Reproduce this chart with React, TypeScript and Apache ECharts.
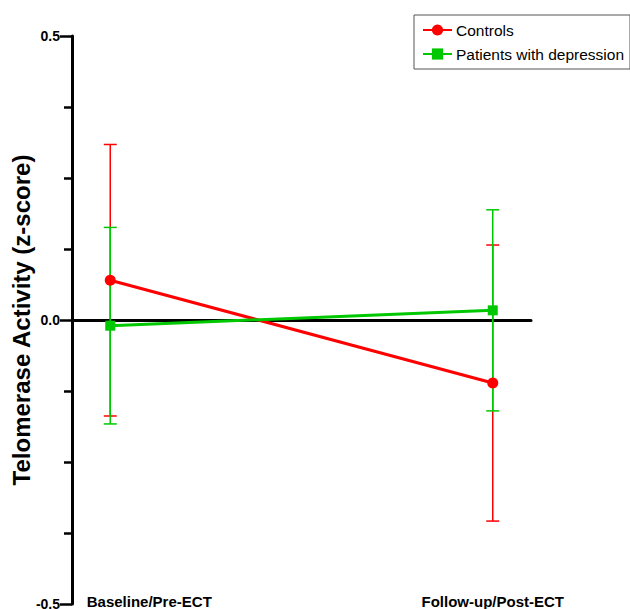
import React, { useEffect, useRef } from "react";
import * as echarts from "echarts";

// ---- data ----
const categories = ["Baseline/Pre-ECT", "Follow-up/Post-ECT"];
const seriesNames = ["Controls", "Patients with depression"];
const controlsMean = [0.070, -0.111];
const controlsErr = [0.239, 0.243];
const patientsMean = [-0.010, 0.017];
const patientsErr = [0.173, 0.177];
const yTicks = [-0.5, 0.0, 0.5];

// ---- layout ----
const categoryX = [0, 1];
const labelAnchors = [0.102, 1.0];
const RED = "#ff0000";
const GREEN = "#00c800";
const FONT = "'Liberation Sans', Arial, Helvetica, sans-serif";

function errorSeries(name: string, means: number[], errs: number[], color: string) {
  return {
    type: "custom",
    name,
    xAxisIndex: 0,
    yAxisIndex: 0,
    z: 2,
    silent: true,
    encode: { x: 0, y: [1, 2] },
    data: means.map((m, i) => [categoryX[i], m - errs[i], m + errs[i]]),
    renderItem: (params: any, api: any) => {
      const x = api.value(0);
      const lo = api.value(1);
      const hi = api.value(2);
      const top = api.coord([x, hi]);
      const bot = api.coord([x, lo]);
      const hw = 6.5;
      const style = { stroke: color, lineWidth: 1.5 };
      return {
        type: "group",
        children: [
          { type: "line", shape: { x1: top[0], y1: top[1], x2: bot[0], y2: bot[1] }, style },
          { type: "line", shape: { x1: top[0] - hw, y1: top[1], x2: top[0] + hw, y2: top[1] }, style },
          { type: "line", shape: { x1: bot[0] - hw, y1: bot[1], x2: bot[0] + hw, y2: bot[1] }, style },
        ],
      };
    },
  };
}

export default function App() {
  const ref = useRef<HTMLDivElement>(null);
  useEffect(() => {
    if (!ref.current) return;
    const chart = echarts.init(ref.current, undefined, { renderer: "svg" });
    chart.setOption({
      animation: false,
      backgroundColor: "#ffffff",
      textStyle: { fontFamily: FONT },
      grid: { left: 72, right: 99, top: 36, bottom: 5, containLabel: false, outerBoundsMode: "none" },
      legend: {
        data: seriesNames,
        left: 414,
        top: 15,
        orient: "vertical",
        align: "left",
        itemWidth: 29,
        itemHeight: 14,
        itemGap: 8,
        padding: [7, 6, 7, 8],
        borderColor: "#555555",
        borderWidth: 1,
        textStyle: { fontFamily: FONT, fontSize: 15.5, color: "#000", padding: [0, 0, 0, -1] },
      },
      xAxis: [
        {
          type: "value",
          min: -0.1,
          max: 1.1,
          axisLine: { show: true, onZero: true, lineStyle: { color: "#000", width: 3 } },
          axisTick: { show: false },
          axisLabel: { show: false },
          splitLine: { show: false },
        },
        {
          type: "value",
          min: -0.1,
          max: 1.1,
          position: "bottom",
          axisLine: { show: false, onZero: false },
          axisTick: { show: false },
          splitLine: { show: false },
          axisLabel: {
            show: true,
            customValues: labelAnchors,
            margin: -10,
            fontFamily: FONT,
            fontSize: 15,
            fontWeight: "bold",
            color: "#000",
            formatter: (v: number) => {
              const idx = labelAnchors.findIndex((a) => Math.abs(a - v) < 1e-6);
              return idx >= 0 ? categories[idx] : "";
            },
          },
        },
      ],
      yAxis: {
        type: "value",
        min: yTicks[0],
        max: yTicks[yTicks.length - 1],
        interval: 0.5,
        name: "Telomerase Activity (z-score)",
        nameLocation: "middle",
        nameRotate: 90,
        nameGap: 39,
        nameMoveOverlap: false,
        nameTextStyle: { fontFamily: FONT, fontSize: 24, fontWeight: "bold", color: "#000" },
        axisLine: { show: true, onZero: false, lineStyle: { color: "#000", width: 3 } },
        axisTick: { show: true, length: 12, lineStyle: { color: "#000", width: 2.5 } },
        minorTick: { show: true, splitNumber: 4, length: 8, lineStyle: { color: "#000", width: 2.5 } },
        axisLabel: {
          margin: 12,
          fontFamily: FONT,
          fontSize: 14,
          fontWeight: "bold",
          color: "#000",
          formatter: (v: number) => v.toFixed(1),
        },
        splitLine: { show: false },
      },
      series: [
        errorSeries("Controls error", controlsMean, controlsErr, RED),
        errorSeries("Patients error", patientsMean, patientsErr, GREEN),
        {
          type: "line",
          name: seriesNames[0],
          z: 3,
          data: controlsMean.map((m, i) => [categoryX[i], m]),
          symbol: "circle",
          symbolSize: 11,
          lineStyle: { color: RED, width: 3 },
          itemStyle: { color: RED },
        },
        {
          type: "line",
          name: seriesNames[1],
          z: 3,
          data: patientsMean.map((m, i) => [categoryX[i], m]),
          symbol: "rect",
          symbolSize: 10,
          lineStyle: { color: GREEN, width: 3 },
          itemStyle: { color: GREEN },
        },
      ],
    });
    return () => chart.dispose();
  }, []);
  return (
    <div
      ref={ref}
      style={{ position: "fixed", left: 0, top: 0, width: 630, height: 609, background: "#fff" }}
    />
  );
}
